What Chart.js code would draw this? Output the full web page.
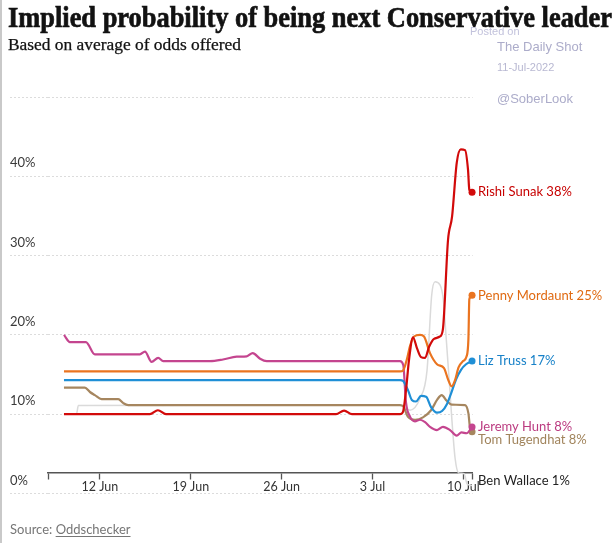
<!DOCTYPE html>
<html><head><meta charset="utf-8">
<script src="https://cdn.jsdelivr.net/npm/chart.js@4.4.1/dist/chart.umd.min.js"></script>
<style>
html,body{margin:0;padding:0;background:#fff;}
#wrap{position:relative;width:615px;height:543px;overflow:hidden;background:#fff;}
#edge{position:absolute;left:0;top:0;bottom:0;width:2px;background:#c9c9c9;}
#c{position:absolute;left:0;top:0;}
.t{position:absolute;white-space:nowrap;transform-origin:0 0;}
#title{left:8px;top:2px;font:bold 30px/30px "Liberation Serif",serif;color:#121212;-webkit-text-stroke:0.7px #121212;}
#sub{left:8px;top:37px;font:16px/16px "Liberation Serif",serif;color:#121212;-webkit-text-stroke:0.25px #121212;}
.wm{font-family:"Liberation Sans",Arial,sans-serif;color:#acacca;}
#src{left:10px;top:521px;font:13px/17px Lato,"Open Sans",sans-serif;color:#767676;}
#src u{text-decoration:underline;text-underline-offset:2px;}
</style></head>
<body>
<div id="wrap">
  <canvas id="c" width="615" height="543"></canvas>
  <div id="edge"></div>
  <div class="t" id="title">Implied probability of being next Conservative leader</div>
  <div class="t" id="sub">Based on average of odds offered</div>
  <div class="t wm" style="left:470px;top:24px;font-size:11px;line-height:14px;color:#c2c2dc;">Posted on</div>
  <div class="t wm" style="left:497px;top:39px;font-size:13px;line-height:16px;">The Daily Shot</div>
  <div class="t wm" style="left:497px;top:60px;font-size:11px;line-height:14px;color:#b8b8d2;">11-Jul-2022</div>
  <div class="t wm" style="left:497px;top:91px;font-size:13px;line-height:16px;">@SoberLook</div>
  <div class="t" id="src">Source: <u>Oddschecker</u></div>
</div>
<script>
// ---- data (x = day of month counted from 1 Jun; 31 = 1 Jul) ----
const seriesNames = ['Rishi Sunak', 'Penny Mordaunt', 'Liz Truss', 'Jeremy Hunt', 'Tom Tugendhat', 'Ben Wallace'];

const sunakDays   = [9.23, 15.85, 16.47, 17.09, 30.19, 30.81, 31.42, 35.12, 35.35, 35.58, 35.81, 36.12, 36.43, 36.74, 37.05, 37.36, 37.74, 38.20, 38.43, 38.82, 39.13, 39.49, 39.80, 40.13, 40.36, 40.46, 40.67];
const sunakValues = [10.0, 10.0, 10.5, 10.0, 10.0, 10.45, 10.0, 10.0, 10.3, 13.0, 16.8, 19.7, 18.3, 17.2, 17.1, 18.5, 19.5, 19.8, 20.8, 32.0, 34.9, 41.7, 43.4, 43.3, 40.8, 38.3, 38.0];

const mordauntDays   = [9.23, 35.12, 35.35, 35.66, 35.89, 36.20, 36.66, 36.97, 37.43, 37.97, 38.51, 38.82, 39.09, 39.36, 39.63, 39.98, 40.25, 40.39, 40.46, 40.67];
const mordauntValues = [15.4, 15.4, 15.5, 17.0, 18.6, 19.8, 20.0, 19.8, 17.7, 16.3, 15.8, 14.4, 13.5, 14.3, 15.9, 16.7, 17.3, 19.5, 24.5, 25.0];

const trussDays   = [9.23, 35.12, 35.35, 35.74, 36.03, 36.35, 36.74, 37.13, 37.51, 37.97, 38.36, 38.74, 39.05, 39.44, 39.82, 40.21, 40.67];
const trussValues = [14.3, 14.3, 14.2, 13.0, 11.8, 11.6, 12.3, 12.2, 10.9, 10.2, 10.4, 11.3, 12.6, 14.4, 15.6, 16.3, 16.7];

const huntDays   = [9.23, 9.69, 10.92, 11.61, 15.08, 15.47, 15.98, 16.49, 16.88, 20.48, 21.48, 22.54, 23.31, 23.77, 24.34, 24.85, 35.12, 35.37, 35.58, 35.89, 36.27, 36.66, 37.05, 37.43, 37.97, 38.43, 38.97, 39.48, 39.86, 40.25, 40.67];
const huntValues = [20.0, 19.1, 19.1, 17.55, 17.55, 17.9, 16.6, 17.1, 16.7, 16.7, 16.9, 17.25, 17.3, 17.7, 17.0, 16.7, 16.7, 16.2, 11.5, 9.7, 9.1, 9.3, 9.0, 8.4, 8.0, 8.4, 8.0, 7.3, 7.7, 7.6, 8.4];

const tugendhatDays   = [9.23, 10.84, 11.23, 11.61, 12.13, 13.41, 13.80, 14.18, 35.12, 35.37, 35.72, 36.28, 36.89, 37.51, 38.01, 38.33, 38.72, 39.10, 40.13, 40.39, 40.51, 40.67];
const tugendhatValues = [13.35, 13.35, 12.8, 12.4, 11.9, 11.9, 11.4, 11.15, 11.15, 11.0, 9.7, 9.3, 9.6, 10.5, 11.9, 12.4, 11.7, 11.2, 11.15, 10.1, 8.3, 7.8];

const wallaceDays   = [9.23, 10.19, 10.34, 35.12, 35.89, 36.66, 37.20, 37.56, 37.82, 38.20, 38.46, 38.66, 38.90, 39.13, 39.36, 39.63, 40.06, 40.29, 40.67];
const wallaceValues = [10.0, 10.0, 11.1, 11.15, 10.5, 12.0, 15.5, 25.0, 26.7, 26.3, 24.4, 20.0, 14.5, 9.0, 4.5, 2.6, 2.5, 1.2, 1.0];

const endLabels = ['Rishi Sunak 38%', 'Penny Mordaunt 25%', 'Liz Truss 17%', 'Jeremy Hunt 8%', 'Tom Tugendhat 8%', 'Ben Wallace 1%'];

const xTickDays   = [8, 12, 19, 26, 33, 40, 40.72];
const xTickLabels = ['', '12 Jun', '19 Jun', '26 Jun', '3 Jul', '10 Jul', ''];
const yTickValues = [0, 10, 20, 30, 40, 50];
const yTickLabels = ['0%', '10%', '20%', '30%', '40%', ''];

// ---- styles ----
const lineColors  = ['#d20a0a', '#ea7420', '#1f8fd6', '#c4458f', '#a6865f', '#dadada'];
const labelColors = ['#c70000', '#e06a12', '#1781c8', '#bb3b80', '#a1845c', '#222222'];
const lineWidths  = [2.2, 2.2, 2.2, 2.2, 2.2, 1.5];
const dotRadius   = [3.5, 3.5, 3.5, 3.5, 3.5, 0];
const labelNudge  = [0, 1, 0, 0, 8.5, -4.5];

const allDays   = [sunakDays, mordauntDays, trussDays, huntDays, tugendhatDays, wallaceDays];
const allValues = [sunakValues, mordauntValues, trussValues, huntValues, tugendhatValues, wallaceValues];

const datasets = seriesNames.map((name, i) => {
  const pts = allDays[i].map((d, k) => ({x: d, y: allValues[i][k]}));
  const last = pts.length - 1;
  return {
    label: name,
    data: pts,
    borderColor: lineColors[i],
    backgroundColor: lineColors[i],
    borderWidth: lineWidths[i],
    cubicInterpolationMode: 'monotone',
    pointRadius: ctx => ctx.dataIndex === last ? dotRadius[i] : 0,
    pointBorderWidth: 0,
    pointHoverRadius: 0,
    clip: false,
    fill: false
  };
});

const endLabelPlugin = {
  id: 'endLabelPlugin',
  afterDatasetsDraw(chart) {
    const ctx = chart.ctx;
    ctx.save();
    ctx.font = '13px Lato, "Open Sans", sans-serif';
    ctx.textBaseline = 'middle';
    ctx.textAlign = 'left';
    chart.data.datasets.forEach((ds, i) => {
      const meta = chart.getDatasetMeta(i);
      const pt = meta.data[meta.data.length - 1];
      ctx.fillStyle = labelColors[i];
      ctx.fillText(endLabels[i], pt.x + 6, pt.y + labelNudge[i]);
    });
    ctx.restore();
  }
};

new Chart(document.getElementById('c'), {
  type: 'line',
  data: { datasets },
  plugins: [endLabelPlugin],
  options: {
    responsive: false,
    devicePixelRatio: 1,
    animation: false,
    events: [],
    layout: { padding: { left: 10, top: 97, right: 142.3, bottom: 49.5 } },
    plugins: { legend: { display: false }, tooltip: { enabled: false }, title: { display: false } },
    scales: {
      x: {
        type: 'linear',
        min: 8,
        max: 40.72,
        position: { y: 2.6 },
        afterBuildTicks: s => { s.ticks = xTickDays.map(v => ({ value: v })); },
        afterFit: s => { s.paddingLeft = 0; s.paddingRight = 0; },
        ticks: {
          autoSkip: false, maxRotation: 0, minRotation: 0,
          callback: (v, i) => xTickLabels[i],
          color: '#333', padding: 1,
          font: { family: 'Lato, "Open Sans", sans-serif', size: 12.5 }
        },
        grid: { drawOnChartArea: false, drawTicks: true, tickLength: 6, tickColor: '#555', tickWidth: 1.3 },
        border: { display: true, color: '#555', width: 1.5 }
      },
      y: {
        type: 'linear',
        min: 0,
        max: 50,
        afterBuildTicks: s => { s.ticks = yTickValues.map(v => ({ value: v })); },
        afterFit: s => { s.width = 38; s.paddingTop = 0; s.paddingBottom = 0; },
        ticks: {
          callback: (v, i) => yTickLabels[i],
          crossAlign: 'far', labelOffset: -13, padding: 0,
          color: '#3a3a3a',
          font: { family: 'Lato, "Open Sans", sans-serif', size: 13 }
        },
        grid: { color: '#dcdcdc', lineWidth: 1, drawTicks: true, tickLength: 38, tickColor: '#dcdcdc', tickWidth: 1, tickBorderDash: [2, 2] },
        border: { display: false, dash: [2, 2] }
      }
    }
  }
});

// fit headline widths to the reference
function fitWidth(id, w) {
  const el = document.getElementById(id);
  const cw = el.getBoundingClientRect().width;
  el.style.transform = 'scaleX(' + (w / cw) + ')';
}
fitWidth('title', 604);
fitWidth('sub', 233);
</script>
</body></html>
